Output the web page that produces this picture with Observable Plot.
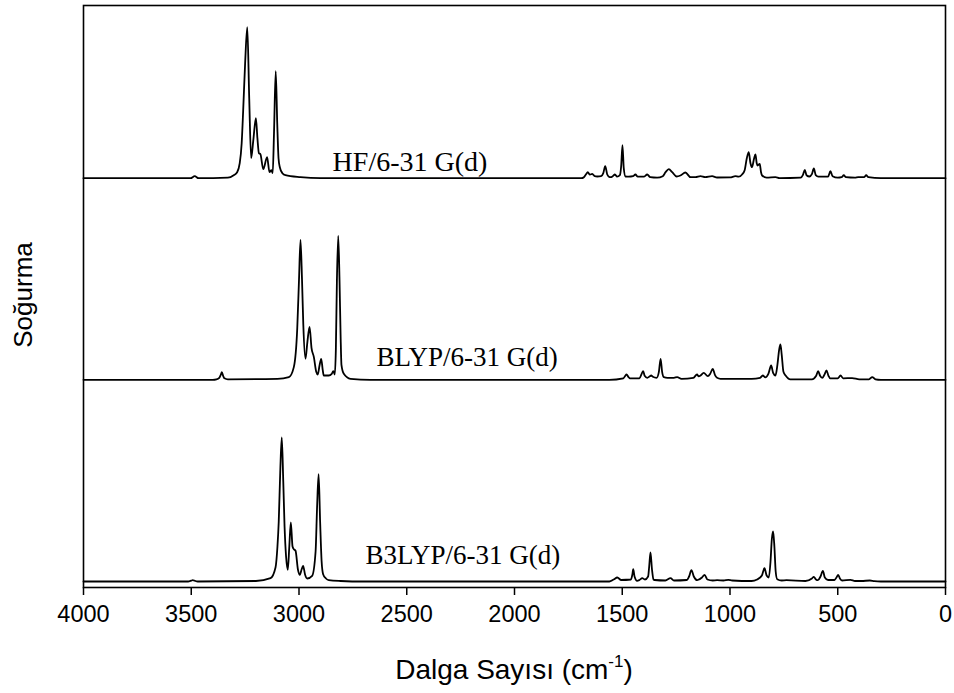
<!DOCTYPE html>
<html>
<head>
<meta charset="utf-8">
<script src="https://cdn.jsdelivr.net/npm/d3@7"></script>
<script src="https://cdn.jsdelivr.net/npm/@observablehq/plot@0.6"></script>
<style>
  html, body { margin: 0; padding: 0; background: #fff; }
  #chart svg { display: block; }
</style>
</head>
<body>
<div id="chart"></div>
<script>
// ---- Data ----
// Each spectrum: [wavenumber (cm^-1), absorbance (a.u.)], descending wavenumber
const methods = ["HF/6-31 G(d)", "BLYP/6-31 G(d)", "B3LYP/6-31 G(d)"];

const hfSpectrum = [
  [4000,0],[3560,0],[3503,0],[3484,2],[3466,0],[3330,0.5],[3303,3],[3287,6],[3275,15],[3266,35],[3259,68],[3250,115],[3240,151],[3231,80],[3222,20],[3212,38],[3200,60],[3193,40],[3186,25],[3179,24],[3166,9],[3148,21],[3137,6],[3128,8],[3122,5],[3116,45],[3108,107],[3101,55],[3095,20],[3089,11],[3077,5],[3063,3],[2993,1],[2900,0],
  [1690,0],[1678,1],[1668,4],[1660,6],[1650,3.5],[1639,4.3],[1628,2],[1616,1.7],[1598,2],[1588,5],[1579,12],[1570,4],[1562,1.5],[1554,1],[1544,2],[1534,3.7],[1524,1.5],[1511,3],[1505,12],[1499,33],[1493,10],[1485,1.7],[1470,1.5],[1450,2],[1439,3.7],[1428,1.5],[1400,1.5],[1384,3.7],[1370,1],[1338,0.5],[1312,2],[1299,6],[1284,9],[1268,6],[1248,1.7],[1230,2.7],[1207,5.7],[1183,1],[1160,1],[1137,2],[1115,1],[1083,2],[1060,0.7],[1000,0.8],[975,2],[960,1.5],[944,3.7],[932,8],[922,20],[913,26],[905,15],[898,11],[888,20],[882,23.7],[876,15],[872,12.7],[862,14.3],[856,6],[851,2.7],[830,0.5],[789,1],[770,0],[672,0.5],[662,3],[653,8.3],[645,3],[631,1.7],[620,4],[611,9.7],[602,3],[590,1.5],[545,1.5],[534,7],[524,2],[500,0.5],[482,1],[472,3],[462,1],[420,0.5],[405,1],[378,1],[368,3],[358,1],[300,0],[0,0]
];

const blypSpectrum = [
  [4000,0],[3400,0],[3383,0.5],[3370,2],[3363,5],[3358,7.7],[3352,4],[3346,1.5],[3330,0.5],[3100,1],[3047,2.7],[3024,12.7],[3008,52],[3000,100],[2993,140],[2986,100],[2980,55],[2970,21],[2961,38],[2951,53],[2942,32],[2931,22.7],[2920,8],[2913,5.3],[2905,14],[2897,21],[2890,10],[2885,4.3],[2862,4.3],[2848,6],[2841,8.7],[2834,5.3],[2829,30],[2824,100],[2818,144],[2812,100],[2807,45],[2803,15],[2792,6],[2761,1],[2668,0],
  [1560,0],[1495,1.5],[1486,4],[1480,5.3],[1472,3],[1465,1.5],[1420,1.5],[1410,6],[1403,8.7],[1396,4],[1384,2],[1372,3.5],[1366,4.3],[1358,3],[1341,2],[1330,8],[1322,21],[1315,8],[1307,2.7],[1290,2],[1260,2],[1245,2.7],[1225,1],[1170,2],[1153,5.3],[1145,3.5],[1138,4],[1122,7],[1103,3.7],[1092,6],[1080,11],[1070,5],[1060,2],[1044,1],[974,1],[900,1],[860,2],[848,4.3],[836,2.5],[822,6],[809,14.3],[800,7],[789,4.3],[780,15],[772,30],[766,35.3],[760,25],[752,8],[742,4.3],[720,0.5],[620,0.5],[600,4],[591,8.7],[582,4],[572,2],[562,5],[552,9.3],[543,4],[535,1.5],[500,1.5],[487,4.3],[475,1.5],[433,1.7],[400,0.5],[355,0.5],[340,2.7],[325,0.5],[300,0],[0,0]
];

const b3lypSpectrum = [
  [4000,0],[3515,0],[3500,0.8],[3493,1.3],[3485,0.8],[3470,0],[3200,0.5],[3132,3.3],[3109,14],[3100,35],[3094,60],[3087,110],[3080,144],[3073,100],[3067,55],[3060,25],[3052,11.7],[3045,35],[3038,59],[3030,35],[3024,32.3],[3016,30.7],[3005,12],[2996,6.7],[2988,12],[2981,15.7],[2972,7],[2962,3],[2939,5.7],[2923,30],[2916,75],[2909,107.3],[2902,60],[2895,20],[2888,7.3],[2875,3],[2862,1.3],[2807,0.5],[2700,0],
  [1560,0],[1540,2],[1523,4],[1505,1.5],[1460,2],[1453,7],[1449,12.3],[1443,5],[1431,0.7],[1420,1.5],[1407,3.3],[1395,2],[1380,5],[1375,15],[1369,29],[1362,12],[1355,2],[1350,1.5],[1300,1],[1276,3.3],[1260,1],[1200,1.5],[1190,5],[1179,11.3],[1168,5],[1152,1.3],[1130,4],[1118,6.7],[1105,2],[1080,1],[1060,1.3],[1030,1],[1008,1.7],[990,1],[900,0.5],[874,2],[852,6],[840,13.3],[830,6],[820,4],[812,20],[806,42],[800,50],[794,35],[788,10],[781,2.3],[760,1],[738,1.3],[650,0.5],[620,3],[611,4.7],[601,2],[592,1.3],[580,5],[569,10.7],[560,4],[545,1.5],[515,1.5],[506,4],[498,6.7],[490,3],[480,1],[441,1.7],[420,0.5],[390,0.5],[351,1],[330,0.3],[300,0],[0,0]
];

const xTicks = [4000, 3500, 3000, 2500, 2000, 1500, 1000, 500, 0];
const xLabel = "Dalga Sayısı (cm";
const xLabelSup = "-1";
const yLabel = "Soğurma";

// ---- Layout (stacking offsets and label anchors, in y units) ----
const spectra = [hfSpectrum, blypSpectrum, b3lypSpectrum];
const baselineOffset = [409.3, 207.7, 6];
const labelAnchor = [[2844, 7.7], [2640, 14], [2691, 18]];
const labelSize = [28, 27, 27];

const rows = spectra.flatMap((s, i) =>
  s.map(([w, a]) => ({method: methods[i], w, y: a + baselineOffset[i]}))
);
const labelRows = methods.map((m, i) => ({text: m, w: labelAnchor[i][0], y: baselineOffset[i] + labelAnchor[i][1], size: labelSize[i]}));

const plot = Plot.plot({
  width: 954,
  height: 693,
  marginLeft: 83,
  marginRight: 9,
  marginTop: 5,
  marginBottom: 106,
  style: {fontFamily: "'Liberation Sans', Arial, sans-serif", color: "black", background: "white"},
  x: {domain: [4000, 0]},
  y: {domain: [0, 582], axis: null},
  marks: [
    Plot.line(rows, {x: "w", y: "y", z: "method", stroke: "black", strokeWidth: 1.8, curve: "monotone-x"}),
    Plot.frame({stroke: "black", strokeWidth: 1.6}),
    Plot.axisX(xTicks, {
      anchor: "bottom", tickSize: 8, tickPadding: 10, strokeWidth: 1.5,
      tickFormat: d3.format("d"), fontSize: 23.5, label: null
    }),
    ...labelRows.map(d => Plot.text([d], {
      x: "w", y: "y", text: "text", textAnchor: "start", lineAnchor: "bottom",
      fontFamily: "'Liberation Serif', 'Times New Roman', serif", fontSize: d.size, fill: "black"
    }))
  ]
});

document.getElementById("chart").appendChild(plot);

// Axis titles as real text
const svg = d3.select(plot);
const xt = svg.append("text")
  .attr("x", (83 + 945) / 2).attr("y", 679)
  .attr("text-anchor", "middle")
  .attr("font-family", "'Liberation Sans', Arial, sans-serif")
  .attr("font-size", 28).attr("fill", "black");
xt.append("tspan").text(xLabel);
xt.append("tspan").attr("font-size", 17).attr("dy", -12).text(xLabelSup);
xt.append("tspan").attr("dy", 12).text(")");

svg.append("text")
  .attr("transform", "translate(32,295) rotate(-90)")
  .attr("text-anchor", "middle")
  .attr("font-family", "'Liberation Sans', Arial, sans-serif")
  .attr("font-size", 26).attr("fill", "black")
  .text(yLabel);
</script>
</body>
</html>
